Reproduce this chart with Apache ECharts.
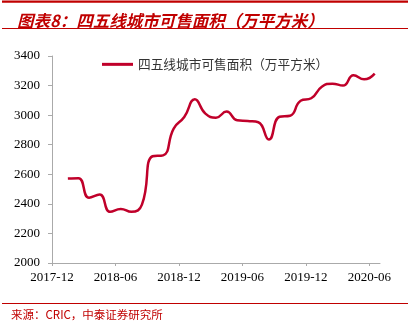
<!DOCTYPE html>
<html>
<head>
<meta charset="utf-8">
<script src="https://cdn.jsdelivr.net/npm/echarts@6/dist/echarts.min.js"></script>
<style>
  html, body { margin: 0; padding: 0; background: #fff; }
  #chart { width: 412px; height: 325px; }
</style>
</head>
<body>
<div id="chart"></div>
<script>
// Monthly stock of saleable floor area in tier-4/5 cities (10k m²)
const months = [
  '2018-01','2018-02','2018-03','2018-04','2018-05','2018-06',
  '2018-07','2018-08','2018-09','2018-10','2018-11','2018-12',
  '2019-01','2019-02','2019-03','2019-04','2019-05','2019-06',
  '2019-07','2019-08','2019-09','2019-10','2019-11','2019-12',
  '2020-01','2020-02','2020-03','2020-04','2020-05','2020-06'
];
const saleableArea = [
  2571, 2573, 2441, 2463, 2346, 2365,
  2346, 2395, 2722, 2728, 2909, 2987,
  3107, 3010, 2983, 3024, 2965, 2960,
  2952, 2835, 2989, 2996, 3097, 3114,
  3192, 3213, 3200, 3269, 3242, 3281
];
const tickLabels = ['2017-12', '2018-06', '2018-12', '2019-06', '2019-12', '2020-06'];
const tickPositions = [0, 6, 12, 18, 24, 30]; // months counted from 2017-12
const seriesName = '四五线城市可售面积（万平方米）';

// each month's value sits in the middle of its month
const points = months.map((m, i) => [i + 1.5, saleableArea[i]]);

const red = '#C0002A';
const serif = '"Liberation Serif", "Times New Roman", serif';

const chart = echarts.init(document.getElementById('chart'), null, { renderer: 'canvas' });
chart.setOption({
  animation: false,
  backgroundColor: '#fff',
  title: {
    text: '图表8：四五线城市可售面积（万平方米）',
    left: 12,
    top: 7,
    textStyle: {
      fontFamily: '"Noto Sans CJK SC", sans-serif',
      fontSize: 16.5,
      fontWeight: 'bold',
      fontStyle: 'italic',
      color: '#C00000',
      letterSpacing: 0.6
    }
  },
  graphic: [
    { type: 'rect', shape: { x: 2, y: 0.5, width: 406, height: 2.2 }, style: { fill: '#C00000' } },
    { type: 'rect', shape: { x: 2, y: 28, width: 406, height: 1 }, style: { fill: '#C00000' } },
    { type: 'rect', shape: { x: 2, y: 303, width: 406, height: 1 }, style: { fill: '#C00000' } },
    {
      type: 'text', left: 11, top: 309,
      style: {
        text: '来源：CRIC，中泰证券研究所',
        fontFamily: '"Noto Sans CJK SC", sans-serif',
        fontSize: 11.5,
        fill: '#C00000',
        letterSpacing: 0.4
      }
    }
  ],
  legend: {
    data: [seriesName],
    left: 97,
    top: 53,
    itemWidth: 31,
    itemHeight: 14,
    itemGap: 3,
    icon: 'path://M0,6 L31,6 L31,9 L0,9 Z',
    textStyle: {
      fontFamily: '"Noto Sans CJK SC", sans-serif',
      fontSize: 12.7,
      color: '#333'
    }
  },
  grid: { left: 52, right: 32, top: 56, bottom: 62, containLabel: false },
  xAxis: {
    type: 'value',
    min: 0,
    max: 31,
    splitLine: { show: false },
    axisLine: { lineStyle: { color: '#aaa', width: 1 } },
    axisTick: { show: true, length: 3, customValues: tickPositions, lineStyle: { color: '#aaa' } },
    axisLabel: {
      customValues: tickPositions,
      margin: 8,
      fontFamily: serif,
      fontSize: 13,
      color: '#000',
      formatter: v => tickLabels[tickPositions.indexOf(v)] || ''
    }
  },
  yAxis: {
    type: 'value',
    min: 2000,
    max: 3400,
    interval: 200,
    splitLine: { show: false },
    axisLine: { show: true, lineStyle: { color: '#aaa', width: 1 } },
    axisTick: { show: true, length: 4, lineStyle: { color: '#aaa' } },
    axisLabel: {
      margin: 12,
      fontFamily: serif,
      fontSize: 13,
      color: '#000',
      formatter: v => String(v)
    }
  },
  series: [{
    name: seriesName,
    type: 'line',
    data: points,
    smooth: 0.5,
    showSymbol: false,
    symbol: 'none',
    lineStyle: { color: red, width: 2.5 },
    itemStyle: { color: red }
  }]
});
</script>
</body>
</html>
